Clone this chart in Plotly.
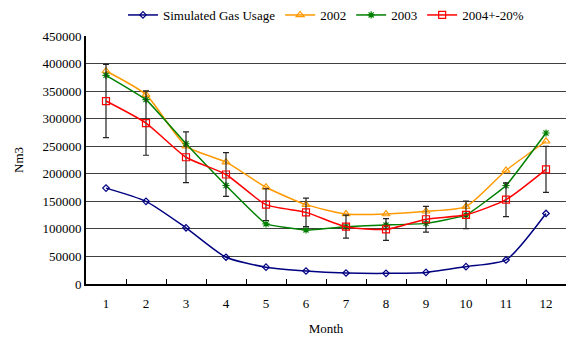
import plotly.graph_objects as go

months = [str(m) for m in range(1, 13)]

simulated = [174000, 150000, 102000, 48500, 30500, 23600, 20000, 19300, 21000, 31500, 43600, 128000]
y2002 = [386500, 343600, 250200, 221000, 175600, 144000, 127000, 127000, 132000, 140500, 206000, 259000]
y2003 = [378700, 334500, 254500, 178700, 109000, 98000, 104000, 107000, 110000, 125000, 178700, 274000]
y2004 = [332000, 292000, 230000, 198700, 144000, 130000, 104000, 99000, 117500, 125500, 153000, 208000]

FONT = "Liberation Serif"

fig = go.Figure()

fig.add_trace(go.Scatter(
    x=months, y=simulated, name="Simulated Gas Usage", mode="lines+markers",
    line=dict(color="#000080", width=1.5, shape="spline", smoothing=0.6),
    marker=dict(symbol="diamond-open", size=5, color="#000080", line=dict(width=1.2)),
))
fig.add_trace(go.Scatter(
    x=months, y=y2002, name="2002", mode="lines+markers",
    line=dict(color="#FF9900", width=1.5, shape="spline", smoothing=0.6),
    marker=dict(symbol="triangle-up-open", size=7, color="#FF9900", line=dict(width=1.2)),
))
fig.add_trace(go.Scatter(
    x=months, y=y2003, name="2003", mode="lines+markers",
    line=dict(color="#008000", width=1.5, shape="spline", smoothing=0.3),
    marker=dict(symbol="asterisk-open", size=6, color="#008000", line=dict(width=1.2, color="#008000")),
))
fig.add_trace(go.Scatter(
    x=months, y=y2004, name="2004+-20%", mode="lines+markers",
    line=dict(color="#FF0000", width=1.5, shape="spline", smoothing=0.6),
    marker=dict(symbol="square-open", size=7, color="#FF0000", line=dict(width=1.2)),
    error_y=dict(type="percent", value=20, color="#222222", thickness=1.2, width=3),
))

fig.update_layout(
    width=568, height=340,
    margin=dict(l=86, r=2, t=36, b=56, autoexpand=False),
    paper_bgcolor="white", plot_bgcolor="white",
    font=dict(family=FONT, size=13, color="black"),
    showlegend=True,
    legend=dict(
        orientation="h", x=0.5, xanchor="center",
        yref="container", y=1.0, yanchor="top",
        font=dict(family=FONT, size=13), itemwidth=30, tracegroupgap=0,
        bgcolor="rgba(0,0,0,0)",
    ),
    xaxis=dict(
        type="category", range=[-0.5, 11.5], automargin=False,
        showline=True, linecolor="black", linewidth=2,
        ticks="inside", tickson="boundaries", ticklen=5, tickcolor="black",
        showgrid=False, zeroline=False, ticklabelstandoff=6,
        tickfont=dict(family=FONT, size=13),
        title=dict(text="Month", font=dict(family=FONT, size=13), standoff=14),
    ),
    yaxis=dict(
        range=[0, 450000], dtick=50000, tickformat="d", automargin=False,
        showline=True, linecolor="black", linewidth=2,
        showgrid=True, gridcolor="#404040", gridwidth=1,
        zeroline=False, ticks="",
        tickfont=dict(family=FONT, size=13),
        title=dict(text="Nm3", font=dict(family=FONT, size=13), standoff=16),
    ),
)

fig.write_html("out.html")
